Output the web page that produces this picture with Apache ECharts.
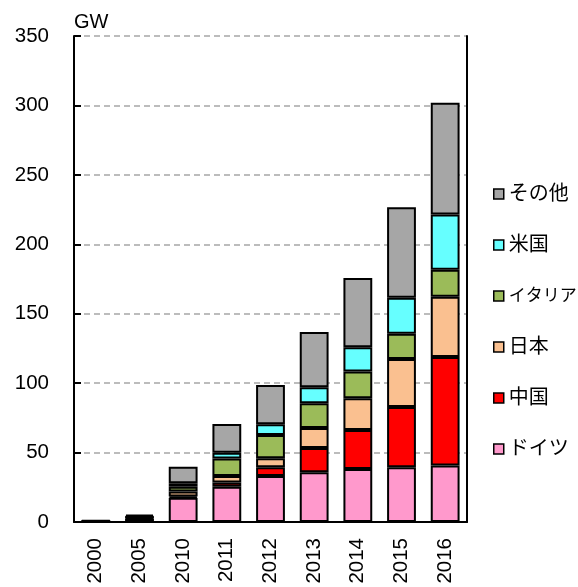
<!DOCTYPE html>
<html>
<head>
<meta charset="utf-8">
<script src="https://cdn.jsdelivr.net/npm/echarts@6/dist/echarts.min.js"></script>
<style>html,body{margin:0;padding:0;background:#fff;}#c{width:578px;height:587px;}</style>
</head>
<body>
<div id="c"></div>
<script>
const years = ['2000','2005','2010','2011','2012','2013','2014','2015','2016'];
const germany = [0.1, 2.0, 17.4, 25.4, 33.1, 35.8, 38.2, 39.4, 40.6];
const china   = [0.02, 0.07, 0.9, 3.0, 6.3, 17.5, 28.0, 43.4, 78.2];
const japan   = [0.3, 1.4, 3.6, 4.8, 6.6, 14.4, 22.9, 34.6, 43.4];
const italy   = [0.02, 0.05, 3.5, 12.6, 16.7, 17.8, 19.2, 18.2, 19.5];
const usa     = [0.15, 0.5, 2.5, 4.1, 7.7, 11.5, 17.6, 25.9, 39.8];
const other   = [0.6, 1.3, 11.9, 20.7, 28.3, 39.8, 49.9, 65.1, 80.5];
const yTicks = [0, 50, 100, 150, 200, 250, 300, 350];
const legendOrder = ['その他','米国','イタリア','日本','中国','ドイツ'];

const font = '"Liberation Sans", Arial, "Noto Sans CJK JP", sans-serif';
const seriesDefs = [
  {name:'ドイツ', data:germany, color:'#FF99CC'},
  {name:'中国', data:china, color:'#FF0000'},
  {name:'日本', data:japan, color:'#FAC090'},
  {name:'イタリア', data:italy, color:'#9BBB59'},
  {name:'米国', data:usa, color:'#66FFFF'},
  {name:'その他', data:other, color:'#A6A6A6'}
];

const chart = echarts.init(document.getElementById('c'), null, {renderer:'canvas'});
chart.setOption({
  animation: false,
  textStyle: {fontFamily: font},
  grid: {left: 74, right: 111, top: 36, bottom: 65, containLabel: false},
  graphic: [{
    type: 'text', left: 74, top: 12,
    style: {text: 'GW', fontSize: 20, fill: '#000', fontFamily: font}
  }],
  legend: {
    orient: 'vertical', left: 488, top: 179, width: 95,
    data: legendOrder.map(n => n === 'イタリア'
      ? {name: n, textStyle: {fontSize: 17, lineHeight: 20}}
      : {name: n}),
    itemWidth: 10, itemHeight: 10, itemGap: 31,
    icon: 'rect',
    itemStyle: {borderColor: '#000', borderWidth: 1.5},
    textStyle: {fontSize: 20, lineHeight: 20, color: '#000', fontFamily: font}
  },
  xAxis: {
    type: 'category', data: years,
    axisLine: {lineStyle: {color: '#000', width: 2}},
    axisTick: {inside: true, length: 6, lineStyle: {color: '#000', width: 1.5}},
    axisLabel: {rotate: 90, fontSize: 20.5, color: '#000', margin: 16, fontFamily: font}
  },
  yAxis: [{
    type: 'value', min: yTicks[0], max: yTicks[yTicks.length-1], interval: 50,
    axisLine: {show: true, lineStyle: {color: '#000', width: 2}},
    axisTick: {show: true, inside: true, length: 7, lineStyle: {color: '#000', width: 2}},
    axisLabel: {fontSize: 20.5, color: '#000', margin: 25, fontFamily: font},
    splitLine: {show: true, lineStyle: {color: '#A6A6A6', type: [6,4], width: 1.5}}
  }, {
    type: 'value', min: 0, max: 350, interval: 50, position: 'right',
    axisLine: {show: true, lineStyle: {color: '#000', width: 2}},
    axisTick: {show: false}, axisLabel: {show: false}, splitLine: {show: false}
  }],
  series: seriesDefs.map(s => ({
    name: s.name, type: 'bar', stack: 'total', data: s.data,
    barWidth: '66%',
    itemStyle: {color: s.color, borderColor: '#000', borderWidth: 2}
  }))
});
</script>
</body>
</html>
